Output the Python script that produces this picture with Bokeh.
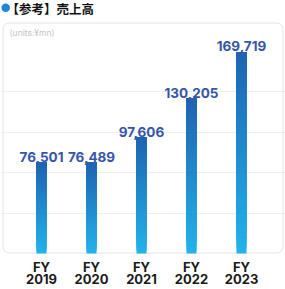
from bokeh.plotting import figure
from bokeh.models import Range1d, FixedTicker, ColumnDataSource
from bokeh.core.properties import value
from bokeh.embed import file_html
from bokeh.resources import INLINE

# ---- data ----
fy_prefix = "FY"
years = ["2019", "2020", "2021", "2022", "2023"]
sales = [76501, 76489, 97606, 130205, 169719]
grid_values = [34000, 68000, 102000, 136000]
title_text = "【参考】売上高"
units_text = "(units:¥mn)"

# ---- layout (frame = whole canvas) ----
W, H = 285, 289
BASE_PY = 253.0          # pixel row of value 0
px_per_cat = 50.0
x0 = -41.0 / px_per_cat
x1 = x0 + W / px_per_cat
upp = 842.0              # value units per pixel
y0 = -(H - BASE_PY) * upp
y1 = BASE_PY * upp

def px2x(px):
    return x0 + px / px_per_cat

def py2y(py):
    return (BASE_PY - py) * upp

p = figure(width=W, height=H, output_backend="svg", toolbar_location=None,
           x_range=Range1d(x0, x1), y_range=Range1d(y0, y1),
           x_axis_location=None, y_axis_location=None,
           min_border=0)
p.background_fill_color = "white"
p.border_fill_color = "white"
p.outline_line_color = None

p.xgrid.visible = False
p.ygrid.ticker = FixedTicker(ticks=grid_values)
p.ygrid.grid_line_color = "#efefef"
p.ygrid.grid_line_width = 1

# ---- rounded chart box ----
p.quad(left=[px2x(2.5)], right=[px2x(282.5)], bottom=[py2y(252.5)], top=[py2y(22.5)],
       fill_color=None, line_color="#e4e4e4", line_width=1, border_radius=6)

# ---- gradient bars (stacked overlapping slices) ----
def lerp(c0, c1, t):
    a = [int(c0[i:i+2], 16) for i in (1, 3, 5)]
    b = [int(c1[i:i+2], 16) for i in (1, 3, 5)]
    return "#%02x%02x%02x" % tuple(round(a[k] + (b[k] - a[k]) * t) for k in range(3))

xs = list(range(len(years)))
bottom_c, top_c = "#22b2ea", "#1e62b0"
N = 40
half = 0.1
L, R, B, T, C = [], [], [], [], []
for i in range(N):
    f = i / N
    for x, v in zip(xs, sales):
        L.append(x - half); R.append(x + half)
        B.append(v * f); T.append(v)
        C.append(lerp(bottom_c, top_c, f))
p.quad(left=L, right=R, bottom=B, top=T, fill_color=C, line_color=None)

# ---- value labels ----
src = ColumnDataSource(dict(x=xs, y=sales, t=[f"{v:,}" for v in sales]))
p.text(x="x", y="y", text="t", source=src, text_align="center",
       text_baseline="alphabetic", y_offset=-6,
       text_font=value("Inter"), text_font_style="bold",
       text_font_size="13.5px", text_color="#3555a8")

# ---- category labels (two lines) ----
cat_src = ColumnDataSource(dict(x=xs, fy=[fy_prefix] * len(xs), yr=years,
                                y1=[py2y(266)] * len(xs), y2=[py2y(278.5)] * len(xs)))
for col, ycol in (("fy", "y1"), ("yr", "y2")):
    p.text(x="x", y=ycol, text=col, source=cat_src, text_align="center",
           text_baseline="middle",
           text_font=value("Inter"), text_font_style="bold",
           text_font_size="13px", text_color="#1a1a1a")

# ---- units / title ----
p.text(x=[px2x(9)], y=[py2y(32.5)], text=[units_text], text_align="left",
       text_baseline="middle", text_font=value("Inter"),
       text_font_size="8.5px", text_color="#c4c4c4")
p.scatter(x=[px2x(5.2)], y=[py2y(7.3)], size=8.5, fill_color="#1f86d3",
          line_color=None)
p.text(x=[px2x(6)], y=[py2y(7.6)], text=[title_text], text_align="left",
       text_baseline="middle", text_font=value("Noto Sans CJK JP"),
       text_font_style="bold", text_font_size="12.5px", text_color="#111111")

open("out.html", "w").write(file_html(p, INLINE))
